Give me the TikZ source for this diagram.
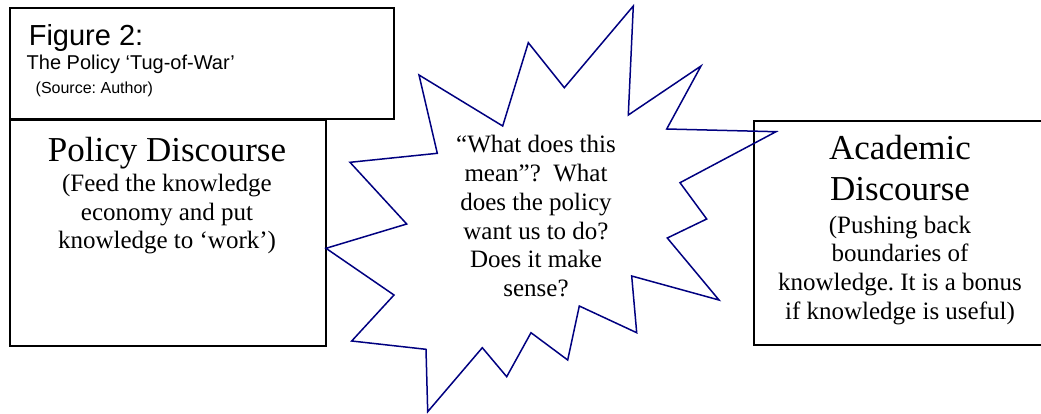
\documentclass[tikz,border=0pt]{standalone}
\usepackage{fontspec}
\setmainfont{Liberation Serif}
\newfontfamily\arialfont{Liberation Sans}
\definecolor{burstblue}{RGB}{0,0,128}
\frenchspacing
\tikzset{
  box/.style={draw=black, line width=1.6pt, rectangle, inner sep=0pt, anchor=north west},
  burstline/.style={draw=burstblue, line width=1.5pt, line join=miter},
  title/.style={anchor=base, align=center, inner sep=0pt, font=\fontsize{35}{41.4}\selectfont},
  body/.style={anchor=base, align=center, inner sep=0pt, font=\fontsize{25}{28.7}\selectfont},
  figtext/.style={anchor=base west, inner sep=0pt}
}
\begin{document}
\begin{tikzpicture}[x=1pt,y=-1pt]
\useasboundingbox (0,0) rectangle (1041,413);
% boxes
\node[box, minimum width=384pt, minimum height=111pt] (fig) at (9,7) {};
\node[box, minimum width=316pt, minimum height=226pt] (policy) at (9,119) {};
\node[box, minimum width=294pt, minimum height=224pt] (academic) at (753,120) {};
% starburst
\draw[burstline] (633.3,6) -- (628.3,115) -- (701,66) -- (666.7,129) -- (776,131.7)
  -- (680,182.7) -- (706.7,219) -- (667.3,238) -- (719,300) -- (631.7,276)
  -- (636.7,332.7) -- (579.3,306) -- (567.7,360) -- (531,332.7) -- (506.7,376.7)
  -- (482.3,347.7) -- (427.7,411.7) -- (426,349.3) -- (351.7,341) -- (394,295)
  -- (326,248.3) -- (406.7,224) -- (350,162.3) -- (437.3,153.3) -- (419,75)
  -- (502.7,126) -- (528.3,42.7) -- (564.3,87.7) -- cycle;
% figure caption
\node[figtext, font=\arialfont\fontsize{29}{32}\selectfont] (f1) at (28.6,45) {Figure 2:};
\node[figtext, font=\arialfont\fontsize{20}{24}\selectfont] (f2) at (26.5,69.3) {The Policy ‘Tug-of-War’};
\node[figtext, font=\arialfont\fontsize{16}{20}\selectfont] (f3) at (35.5,93.5) {(Source: Author)};
% policy text
\node[title] (pt) at (167,161.7) {Policy Discourse};
\node[body, font=\fontsize{25}{28.5}\selectfont] (pb) at (167,248.7) {(Feed the knowledge\\economy and put\\knowledge to ‘work’)};
% academic text
\node[title] (at) at (900,200.7) {Academic\\Discourse};
\node[body] (ab) at (900,319.1) {(Pushing back\\boundaries of\\knowledge. It is a bonus\\if knowledge is useful)};
% burst text
\node[body, font=\fontsize{25}{28.9}\selectfont] (bt) at (536,296.8) {“What does this\\mean”?\ \ What\\does the policy\\want us to do?\\Does it make\\sense?};
\end{tikzpicture}
\end{document}
